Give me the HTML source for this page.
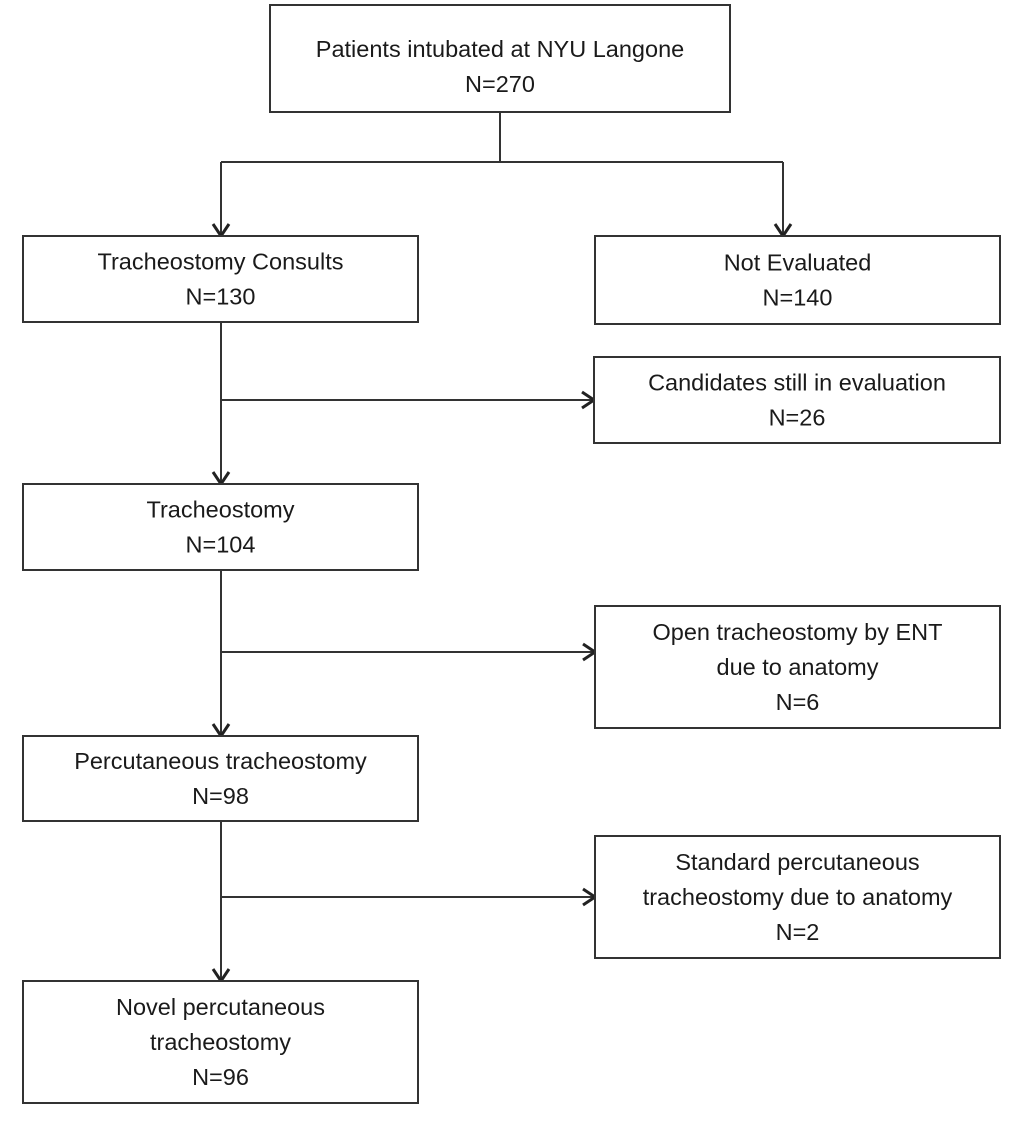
<!DOCTYPE html>
<html><head><meta charset="utf-8"><style>
html,body{margin:0;padding:0;background:#fff;}
svg{display:block;}
text{font-family:"Liberation Sans",sans-serif;font-size:23.5px;fill:#1a1a1a;text-anchor:middle;}
</style></head><body>
<svg id="c" width="1025" height="1125" viewBox="0 0 1025 1125">
<defs><marker id="ah" viewBox="0 0 16 20" refX="14" refY="10" markerWidth="16" markerHeight="20" markerUnits="userSpaceOnUse" orient="auto"><path d="M2,2 L14,10 L2,18" fill="none" stroke="#222" stroke-width="3"/></marker></defs>
<g id="lines" stroke="#333" stroke-width="2" fill="none"></g>
<g id="boxes"></g>
</svg>
<script>
const boxes=[
 ["patients-box",270,5,730,112,["Patients intubated at NYU Langone","N=270"],8],
 ["consults-box",23,236,418,322,["Tracheostomy Consults","N=130"],0],
 ["not-evaluated-box",595,236,1000,324,["Not Evaluated","N=140"],0],
 ["candidates-box",594,357,1000,443,["Candidates still in evaluation","N=26"],0],
 ["tracheostomy-box",23,484,418,570,["Tracheostomy","N=104"],0],
 ["open-tracheostomy-box",595,606,1000,728,["Open tracheostomy by ENT","due to anatomy","N=6"],0],
 ["percutaneous-box",23,736,418,821,["Percutaneous tracheostomy","N=98"],0],
 ["standard-percutaneous-box",595,836,1000,958,["Standard percutaneous","tracheostomy due to anatomy","N=2"],0],
 ["novel-percutaneous-box",23,981,418,1103,["Novel percutaneous","tracheostomy","N=96"],0]
];
const NS="http://www.w3.org/2000/svg";
const bg=document.getElementById('boxes'), lg=document.getElementById('lines');
boxes.forEach(b=>{
 const g=document.createElementNS(NS,'g');
 
 
 const r=document.createElementNS(NS,'rect');
 r.setAttribute('x',b[1]);r.setAttribute('y',b[2]);r.setAttribute('width',b[3]-b[1]);r.setAttribute('height',b[4]-b[2]);
 r.setAttribute('fill','#fff');r.setAttribute('stroke','#333');r.setAttribute('stroke-width','2');
 g.appendChild(r);
 const n=b[5].length, lh=35, cy=(b[2]+b[4])/2+b[6], cx=(b[1]+b[3])/2;
 b[5].forEach((t,i)=>{
  const tx=document.createElementNS(NS,'text');
  tx.setAttribute('x',cx);tx.setAttribute('y',cy+(i-(n-1)/2)*lh+8);
  tx.textContent=t;
  
  
  g.appendChild(tx);
 });
 bg.appendChild(g);
});
const segs=[
 [500,112,500,162,0],[221,162,783,162,0],[221,162,221,236,1],[783,162,783,236,1],
 [221,322,221,484,1],[221,400,594,400,1],
 [221,570,221,736,1],[221,652,595,652,1],
 [221,821,221,981,1],[221,897,595,897,1]
];
segs.forEach(s=>{
 const l=document.createElementNS(NS,'line');
 l.setAttribute('x1',s[0]);l.setAttribute('y1',s[1]);l.setAttribute('x2',s[2]);l.setAttribute('y2',s[3]);
 if(s[4])l.setAttribute('marker-end','url(#ah)');
 
 
 lg.appendChild(l);
});
</script>
</body></html>
